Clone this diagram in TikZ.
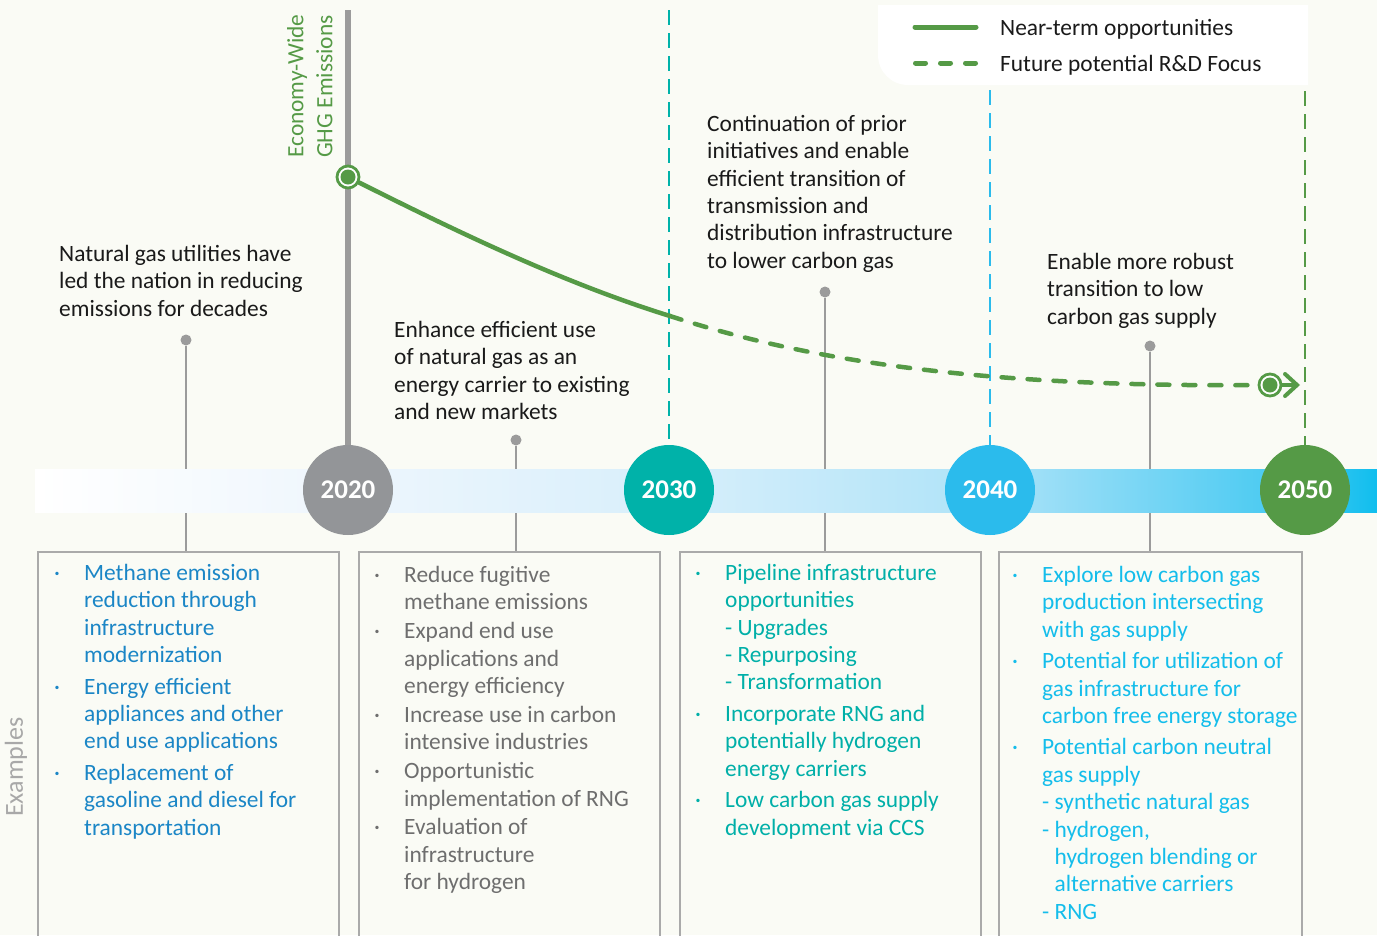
\documentclass[tikz,border=0pt]{standalone}
\usepackage{fontspec}
\setmainfont{Carlito}
\usetikzlibrary{arrows.meta}
\definecolor{bg}{HTML}{FAFBF5}
\definecolor{ink}{HTML}{1A1A1A}
\definecolor{grn}{HTML}{559A46}
\definecolor{gcirc}{HTML}{939598}
\definecolor{tealc}{HTML}{00B2A9}
\definecolor{bluec}{HTML}{2BBBEC}
\definecolor{tblue}{HTML}{1B86C6}
\definecolor{tgray}{HTML}{6E6E6E}
\definecolor{tteal}{HTML}{00AFA8}
\definecolor{tcyan}{HTML}{14BDEB}
\definecolor{pingray}{HTML}{9B9B9B}
\definecolor{boxgray}{HTML}{AAAAAA}
\definecolor{exgray}{HTML}{A8A8A8}
\definecolor{bA}{HTML}{EEF6FD}
\definecolor{bB}{HTML}{D8EFFB}
\definecolor{bC}{HTML}{AEE3F8}
\definecolor{bD}{HTML}{40C8F1}
\definecolor{bE}{HTML}{10BEEE}
\newcommand{\bu}{\makebox[30pt][l]{·}}
\begin{document}
\begin{tikzpicture}[x=1pt,y=-1pt,
  note/.style={inner sep=0pt, anchor=north west, text=ink, font=\fontsize{23.4}{27.4}\selectfont},
  boxtext/.style={inner sep=0pt, anchor=north west, font=\fontsize{23.4}{27.4}\selectfont},
  yr/.style={circle, minimum size=90pt, inner sep=0pt, text=white, font=\bfseries\fontsize{27}{30}\selectfont},
  exbox/.style={draw=boxgray, line width=2pt, inner sep=0pt, anchor=north west, minimum height=400pt},
  pindot/.style={circle, fill=pingray, minimum size=11pt, inner sep=0pt},
  pinline/.style={draw=pingray, line width=2pt},
  vdash/.style={line width=1.6pt, dash pattern=on 15pt off 8pt},
  curve/.style={draw=grn, line width=4.5pt},
  markring/.style={circle, draw=grn, line width=2.8pt, minimum size=22pt, inner sep=0pt},
  markdot/.style={circle, fill=grn, minimum size=15pt, inner sep=0pt}
]
\useasboundingbox (0,0) rectangle (1377,935);
\fill[bg] (0,0) rectangle (1377,935);

% legend
\fill[white] (1308,5) -- (878,5) -- (878,55) to[out=-90,in=180] (908,85) -- (1308,85) -- cycle;
\coordinate (la) at (915,27);
\coordinate (lb) at (976,27);
\coordinate (lc) at (915.5,63);
\coordinate (ld) at (980,63);
\draw[grn, line width=5pt, line cap=round] (la) -- (lb);
\draw[grn, line width=5pt, line cap=round, dash pattern=on 10pt off 15pt] (lc) -- (ld);
\node[note, anchor=base west] (leg1) at (1000,35) {Near-term opportunities};
\node[note, anchor=base west] (leg2) at (1000,71) {Future potential R\&D Focus};

% example boxes
\node[exbox, minimum width=301pt] (box1) at (37,551) {};
\node[exbox, minimum width=301pt] (box2) at (358,551) {};
\node[exbox, minimum width=301pt] (box3) at (679,551) {};
\node[exbox, minimum width=303pt] (box4) at (998,551) {};

% pins and their lines
\node[pindot] (p1) at (186,340) {};
\node[pindot] (p2) at (516,440) {};
\node[pindot] (p3) at (825,292) {};
\node[pindot] (p4) at (1150,346) {};
\draw[pinline] (p1.south) -- (p1 |- box1.north);
\draw[pinline] (p2.south) -- (p2 |- box2.north);
\draw[pinline] (p3.south) -- (p3 |- box3.north);
\draw[pinline] (p4.south) -- (p4 |- box4.north);

% band
\shade[left color=white, right color=bA] (35,469) rectangle (348.5,512);
\shade[left color=bA, right color=bB] (348,469) rectangle (669.5,512);
\shade[left color=bB, right color=bC] (669,469) rectangle (990.5,512);
\shade[left color=bC, right color=bD] (990,469) rectangle (1305.5,512);
\shade[left color=bD, right color=bE] (1305,469) rectangle (1377,512);

% year circles
\node[yr, fill=gcirc] (y2020) at (348,490) {2020};
\node[yr, fill=tealc] (y2030) at (669,490) {2030};
\node[yr, fill=bluec] (y2040) at (990,490) {2040};
\node[yr, fill=grn] (y2050) at (1305,490) {2050};

% vertical lines
\coordinate (gtop) at (348,10);
\coordinate (ttop) at (669,10);
\coordinate (btop) at (990,90);
\coordinate (ntop) at (1305,91);
\draw[pingray, line width=6pt] (gtop) -- (y2020.north);
\draw[vdash, tealc] (ttop) -- (y2030.north);
\draw[vdash, bluec] (btop) -- (y2040.north);
\draw[vdash, grn] (ntop) -- (y2050.north);

% emission curve
\node[markring, fill=white] (m1) at (348,177) {};
\node[markdot] (m1d) at (m1.center) {};
\node[markring, fill=white] (m2) at (1270,385) {};
\node[markdot] (m2d) at (m2.center) {};
\coordinate (mid) at (670,316);
\coordinate (arrend) at (1300,385);
\draw[curve, line cap=round] (m1) .. controls (450,228) and (560,282) .. (mid);
\draw[curve, line cap=round, dash pattern=on 12pt off 14pt] (mid) .. controls (820,365) and (1000,387) .. (m2);
\draw[grn, line width=4pt, line cap=round, -{Straight Barb[length=12pt, width=22pt, line cap=round, line width=4pt]}] (m2.east) -- (arrend);

% rotated labels
\node[note, text=grn, rotate=90, anchor=north west] (ghg) at (284,158) {\begin{tabular}{@{}l@{}}Economy-Wide\\[1.5pt]GHG Emissions\end{tabular}};
\node[inner sep=0pt, text=exgray, rotate=90, anchor=base, font=\fontsize{26}{30}\selectfont] (ex) at (23,767) {Examples};

% annotations
\node[note] (n1) at (59,242) {\begin{tabular}{@{}l@{}}Natural gas utilities have\\led the nation in reducing\\emissions for decades\end{tabular}};
\node[note] (n2) at (394,318) {\begin{tabular}{@{}l@{}}Enhance efficient use\\of natural gas as an\\energy carrier to existing\\and new markets\end{tabular}};
\node[note] (n3) at (707,112) {\begin{tabular}{@{}l@{}}Continuation of prior\\initiatives and enable\\efficient transition of\\transmission and\\distribution infrastructure\\to lower carbon gas\end{tabular}};
\node[note] (n4) at (1047,250) {\begin{tabular}{@{}l@{}}Enable more robust\\transition to low\\carbon gas supply\end{tabular}};

% box texts
\node[boxtext, text=tblue] (t1) at (54,561) {\begin{tabular}{@{}l@{}l@{}}
\bu & Methane emission\\
 & reduction through\\
 & infrastructure\\
 & modernization\\[4.2pt]
\bu & Energy efficient\\
 & appliances and other\\
 & end use applications\\[4.2pt]
\bu & Replacement of\\
 & gasoline and diesel for\\
 & transportation
\end{tabular}};
\node[boxtext, text=tgray] (t2) at (374,563) {\begin{tabular}{@{}l@{}l@{}}
\bu & Reduce fugitive\\
 & methane emissions\\[1.5pt]
\bu & Expand end use\\
 & applications and\\
 & energy efficiency\\[1.5pt]
\bu & Increase use in carbon\\
 & intensive industries\\[1.5pt]
\bu & Opportunistic\\
 & implementation of RNG\\[1.5pt]
\bu & Evaluation of\\
 & infrastructure\\
 & for hydrogen
\end{tabular}};
\node[boxtext, text=tteal] (t3) at (695,561) {\begin{tabular}{@{}l@{}l@{}}
\bu & Pipeline infrastructure\\
 & opportunities\\
 & - Upgrades\\
 & - Repurposing\\
 & - Transformation\\[4.2pt]
\bu & Incorporate RNG and\\
 & potentially hydrogen\\
 & energy carriers\\[4.2pt]
\bu & Low carbon gas supply\\
 & development via CCS
\end{tabular}};
\node[boxtext, text=tcyan] (t4) at (1012,563) {\begin{tabular}{@{}l@{}l@{}}
\bu & Explore low carbon gas\\
 & production intersecting\\
 & with gas supply\\[4.1pt]
\bu & Potential for utilization of\\
 & gas infrastructure for\\
 & carbon free energy storage\\[4.1pt]
\bu & Potential carbon neutral\\
 & gas supply\\
 & - synthetic natural gas\\
 & - hydrogen,\\
 & \hphantom{- }hydrogen blending or\\
 & \hphantom{- }alternative carriers\\
 & - RNG
\end{tabular}};
\end{tikzpicture}
\end{document}
